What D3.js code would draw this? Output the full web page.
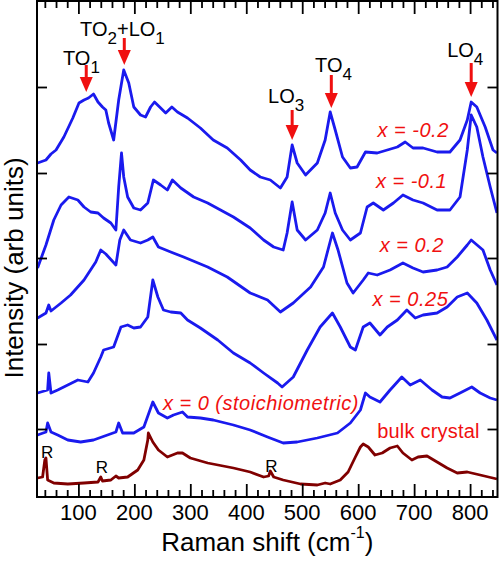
<!DOCTYPE html>
<html><head><meta charset="utf-8">
<script src="https://cdn.jsdelivr.net/npm/d3@7"></script>
<style>
body{margin:0;background:#fff}
text{font-family:"Liberation Sans",Arial,Helvetica,sans-serif}
</style>
</head><body>
<svg id="chart" width="500" height="565"></svg>
<script>
// ---------- data (Raman shift cm^-1, intensity arb. units) ----------
const xTickLabels = [100, 200, 300, 400, 500, 600, 700, 800];
const yTickValues = [71, 156, 242, 327, 413];

const seriesM02 = [[27,337],[42,340],[51,346],[60,350],[74,363],[90,382],[101,397],[110,400],[118,402],[127,406],[135,398],[143,393],[149,390],[154,377],[163,360],[172,400],[181,430],[190,417],[199,393],[211,385],[220,383],[229,393],[236,398],[247,392],[256,387],[267,393],[277,388],[295,382],[318,372],[341,360],[366,352],[390,340],[407,330],[425,323],[443,320],[461,312],[473,323],[482,355],[491,337],[506,325],[527,337],[541,360],[550,388],[559,370],[572,343],[586,332],[598,333],[613,348],[634,347],[652,350],[670,353],[684,358],[698,352],[716,352],[741,348],[764,348],[782,360],[795,380],[802,398],[812,393],[827,373],[841,350],[848,347]];

const seriesM01 = [[27,232],[42,255],[56,280],[69,295],[83,303],[99,300],[110,293],[122,288],[135,287],[145,282],[158,277],[167,270],[172,313],[177,347],[181,323],[188,303],[199,292],[211,290],[224,297],[234,320],[247,315],[259,310],[268,320],[283,312],[306,303],[331,297],[354,290],[377,283],[407,272],[431,260],[449,253],[466,250],[473,267],[482,298],[491,270],[506,260],[527,270],[541,287],[550,307],[559,287],[572,270],[586,260],[604,267],[616,293],[627,297],[645,290],[663,297],[680,305],[698,300],[716,297],[741,290],[764,290],[782,303],[795,350],[802,385],[812,373],[823,343],[836,313],[848,287]];

const seriesP02 = [[27,182],[42,187],[47,195],[51,189],[69,197],[86,205],[110,220],[131,238],[140,250],[149,246],[167,235],[174,260],[181,270],[193,260],[211,257],[224,260],[233,263],[243,253],[265,248],[288,243],[331,233],[366,223],[407,207],[438,200],[461,188],[484,197],[515,213],[538,233],[554,267],[564,250],[580,217],[591,207],[609,220],[618,227],[634,225],[657,230],[680,237],[698,232],[716,228],[741,230],[759,233],[777,243],[795,255],[802,260],[823,250],[836,230],[848,215]];

const seriesP025 = [[27,107],[45,110],[47,127],[51,107],[63,110],[81,115],[99,120],[117,118],[127,127],[140,143],[145,150],[163,153],[176,173],[188,175],[199,172],[211,173],[224,183],[233,220],[242,203],[252,190],[265,188],[283,187],[295,180],[318,172],[349,160],[377,147],[407,137],[431,127],[456,117],[464,113],[484,123],[509,150],[532,173],[554,187],[568,173],[586,153],[595,150],[609,173],[621,177],[639,165],[652,173],[670,180],[687,190],[702,182],[716,185],[741,187],[759,193],[777,203],[795,207],[812,197],[830,180],[848,160]];

const seriesX0 = [[27,65],[42,68],[45,77],[51,68],[63,65],[81,60],[104,58],[127,60],[152,65],[167,68],[172,77],[179,67],[199,67],[217,73],[233,98],[243,87],[259,82],[270,85],[286,88],[295,83],[318,82],[341,80],[377,75],[407,70],[438,63],[466,57],[491,58],[527,62],[563,67],[586,77],[604,90],[613,107],[621,103],[639,98],[657,110],[678,123],[693,115],[711,120],[732,110],[750,103],[764,102],[782,107],[803,113],[818,107],[836,102],[848,100]];

const seriesBulk = [[27,22],[36,23],[40,40],[42,42],[45,20],[56,17],[81,16],[110,17],[135,18],[140,23],[143,19],[158,20],[167,24],[172,22],[188,23],[206,30],[217,40],[224,60],[225,67],[233,58],[243,50],[259,43],[277,47],[286,47],[300,42],[331,37],[377,32],[407,28],[431,23],[440,24],[443,29],[449,23],[466,20],[497,16],[527,15],[541,17],[550,16],[568,20],[582,28],[595,43],[604,53],[609,56],[618,53],[630,45],[643,47],[657,52],[670,54],[680,47],[696,40],[707,43],[723,44],[741,38],[759,32],[777,27],[795,28],[818,25],[848,21]];

const seriesNames = ["x = -0.2", "x = -0.1", "x = 0.2", "x = 0.25", "x = 0 (stoichiometric)", "bulk crystal"];
const seriesData = [seriesM02, seriesM01, seriesP02, seriesP025, seriesX0, seriesBulk];

// Peak assignments: main text, subscript, arrow x (cm^-1)
const peakMain = ["TO", "TO", "LO", "TO", "LO"];
const peakSub = ["1", "2", "3", "4", "4"];
const peakArrowX = [114, 182, 482, 552, 802];
const rLabelX = [44, 142, 445];

// ---------- layout ----------
const svg = d3.select("#chart");
const L = 37, R = 497.5, T = 1, B = 497;
const x = d3.scaleLinear().domain([26, 849]).range([L, R]);
const y = d3.scaleLinear().domain([3, 499]).range([B, T]);

const blue = "#1a1aee", bulkColor = "#800000", red = "#f01010";

svg.append("defs").append("clipPath").attr("id", "clip")
  .append("rect").attr("x", L).attr("y", T).attr("width", R - L).attr("height", B - T);

const line = d3.line().x(d => x(d[0])).y(d => y(d[1]));

seriesData.forEach((s, i) => {
  svg.append("path").datum(s)
    .attr("clip-path", "url(#clip)")
    .attr("fill", "none")
    .attr("stroke", i === 5 ? bulkColor : blue)
    .attr("stroke-width", 2.8)
    .attr("stroke-linejoin", "round")
    .attr("d", line);
});

// ---------- axes ----------
const minorX = d3.range(40, 849, 20).filter(v => v % 100 !== 0);

function xAxis(gen, pos) {
  const gMaj = svg.append("g").attr("transform", `translate(0,${pos})`)
    .call(gen(x).tickValues(xTickLabels).tickSize(13).tickFormat(""));
  const gMin = svg.append("g").attr("transform", `translate(0,${pos})`)
    .call(gen(x).tickValues(minorX).tickSize(7).tickFormat(""));
  [gMaj, gMin].forEach(g => {
    g.select(".domain").remove();
    g.selectAll(".tick line").attr("stroke", "#000").attr("stroke-width", 1.8);
  });
  return gMaj;
}
xAxis(d3.axisTop, B);
xAxis(d3.axisBottom, T);
svg.append("g").selectAll("text").data(xTickLabels).join("text")
  .attr("x", d => x(d)).attr("y", 520)
  .attr("text-anchor", "middle").attr("font-size", 22).attr("fill", "#000")
  .text(d => d);

// y ticks (no labels), inward on both sides
const gl = svg.append("g").attr("transform", `translate(${L},0)`)
  .call(d3.axisRight(y).tickValues(yTickValues).tickSize(10).tickFormat(""));
const gr = svg.append("g").attr("transform", `translate(${R},0)`)
  .call(d3.axisLeft(y).tickValues(yTickValues).tickSize(10).tickFormat(""));
[gl, gr].forEach(g => {
  g.select(".domain").remove();
  g.selectAll(".tick line").attr("stroke", "#000").attr("stroke-width", 1.8);
});

svg.append("rect").attr("x", L).attr("y", T).attr("width", R - L).attr("height", B - T)
  .attr("fill", "none").attr("stroke", "#000").attr("stroke-width", 2);

// axis titles
const xt = svg.append("text").attr("x", (L + R) / 2).attr("y", 551)
  .attr("text-anchor", "middle").attr("font-size", 26).attr("fill", "#000");
xt.append("tspan").text("Raman shift (cm");
xt.append("tspan").attr("font-size", 16).attr("dy", -13).text("-1");
xt.append("tspan").attr("dy", 13).text(")");

svg.append("text").attr("transform", "translate(23,268) rotate(-90)")
  .attr("text-anchor", "middle").attr("font-size", 26).attr("fill", "#000")
  .text("Intensity (arb units)");

// ---------- series labels ----------
const labelX = [762, 759, 753, 761, 251, 634];
const labelY = [363, 312, 248, 194, 90, 62];
seriesNames.forEach((name, i) => {
  const bulk = i === 5;
  svg.append("text")
    .attr("x", x(labelX[i])).attr("y", y(labelY[i]))
    .attr("text-anchor", (i >= 4) ? "start" : "end")
    .attr("font-size", 20)
    .attr("font-style", bulk ? "normal" : "italic")
    .attr("letter-spacing", bulk ? 0.2 : 0.5)
    .attr("fill", red)
    .text(name);
});

// ---------- peak annotations ----------
const peakTextX = [72.5, 103, 439, 523, 759];
const peakTextY = [435, 464, 397, 428, 443];
const arrowTop = [435, 462, 390, 425, 437];
const arrowTip = [408, 435, 360, 392, 403];

peakMain.forEach((m, i) => {
  const t = svg.append("text").attr("x", x(peakTextX[i])).attr("y", y(peakTextY[i]))
    .attr("font-size", 20).attr("fill", "#000");
  t.append("tspan").text(m);
  t.append("tspan").attr("font-size", 17).attr("dy", 8).text(peakSub[i]);
  if (i === 1) {
    t.append("tspan").attr("dy", -8).text("+LO");
    t.append("tspan").attr("font-size", 17).attr("dy", 8).text("1");
  }
  const ax = x(peakArrowX[i]), y0 = y(arrowTop[i]), y1 = y(arrowTip[i]);
  const hh = 15, hw = 6.5;
  svg.append("line").attr("x1", ax).attr("x2", ax).attr("y1", y0).attr("y2", y1 - hh + 1)
    .attr("stroke", red).attr("stroke-width", 3);
  svg.append("path")
    .attr("d", `M${ax - hw},${y1 - hh}L${ax + hw},${y1 - hh}L${ax},${y1}Z`)
    .attr("fill", red);
});

// R (reference) markers on the bulk spectrum
const rLabelY = [42, 27, 28];
rLabelX.forEach((v, i) => {
  svg.append("text").attr("x", x(v)).attr("y", y(rLabelY[i]))
    .attr("text-anchor", "middle").attr("font-size", 17).attr("fill", "#000").text("R");
});
</script>
</body></html>
